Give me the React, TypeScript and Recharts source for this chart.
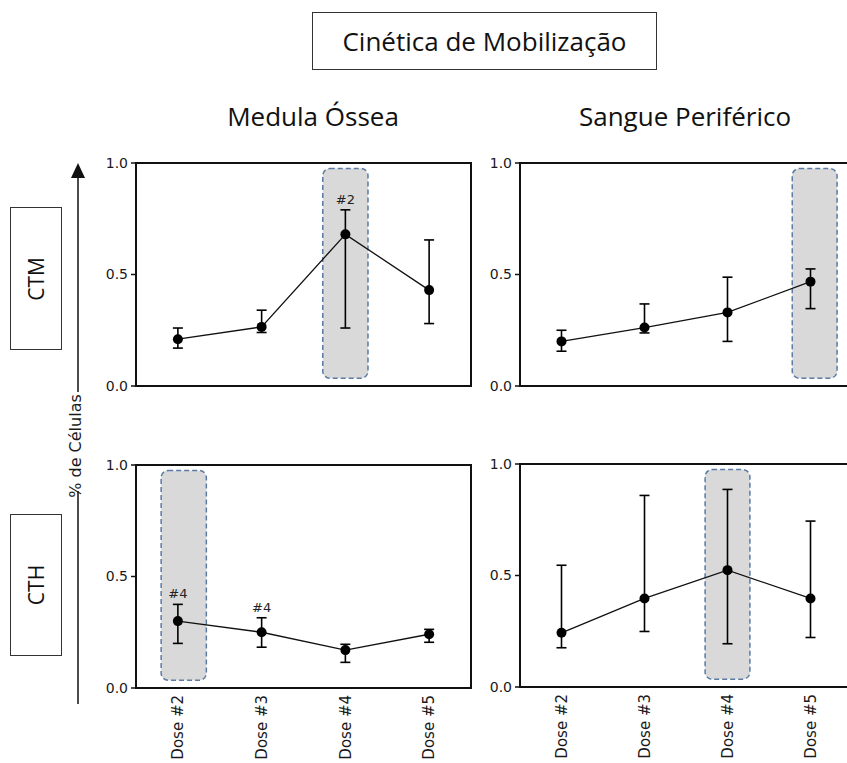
import {
    ComposedChart,
    Line,
    XAxis,
    YAxis,
    ErrorBar,
    ReferenceArea,
    LabelList,
} from "recharts";

const doses = ["Dose #2", "Dose #3", "Dose #4", "Dose #5"];
const yTicks = [0, 0.5, 1];

// CTM - Medula Óssea
const ctmMoMean = [0.21, 0.265, 0.68, 0.43];
const ctmMoLow = [0.17, 0.24, 0.26, 0.28];
const ctmMoHigh = [0.26, 0.34, 0.79, 0.655];
const ctmMoNotes = ["", "", "#2", ""];

// CTM - Sangue Periférico
const ctmSpMean = [0.2, 0.262, 0.33, 0.468];
const ctmSpLow = [0.156, 0.238, 0.2, 0.347];
const ctmSpHigh = [0.25, 0.368, 0.488, 0.525];
const ctmSpNotes = ["", "", "", ""];

// CTH - Medula Óssea
const cthMoMean = [0.3, 0.25, 0.17, 0.241];
const cthMoLow = [0.2, 0.183, 0.115, 0.205];
const cthMoHigh = [0.375, 0.315, 0.196, 0.263];
const cthMoNotes = ["#4", "#4", "", ""];

// CTH - Sangue Periférico
const cthSpMean = [0.243, 0.397, 0.524, 0.397];
const cthSpLow = [0.176, 0.249, 0.194, 0.222];
const cthSpHigh = [0.546, 0.859, 0.886, 0.744];
const cthSpNotes = ["", "", "", ""];

// dose highlighted (1-based) in each panel
const highlightDose = { ctmMo: 3, ctmSp: 4, cthMo: 1, cthSp: 3 };

function buildRows(mean: number[], low: number[], high: number[], notes: string[]) {
    return doses.map((d, i) => ({
        x: i + 1,
        dose: d,
        mean: mean[i],
        hi: high[i],
        err: [mean[i] - low[i], high[i] - mean[i]],
        note: notes[i],
    }));
}

const tickFont = "DejaVu Sans, Arial, sans-serif";
const ink = "#111";

const DoseTick = (p: any) => (
    <g transform={`translate(${p.x},${p.y})`}>
        <text
            transform="rotate(-90)"
            x={0}
            y={0}
            dy="0.35em"
            textAnchor="end"
            fontFamily={tickFont}
            fontSize={15}
            fill="#1a1a1a"
        >
            {doses[p.payload.value - 1]}
        </text>
    </g>
);

const HighlightBox = (p: any) => (
    <rect
        x={p.x}
        y={p.y}
        width={p.width}
        height={p.height}
        rx={7}
        ry={7}
        fill="#d9d9d9"
        stroke="#5b7ba6"
        strokeWidth={1.5}
        strokeDasharray="5 3"
    />
);

function Panel({
    rows,
    left,
    top,
    plotW,
    plotH,
    highlight,
    shift,
    showX,
}: {
    rows: any[];
    left: number;
    top: number;
    plotW: number;
    plotH: number;
    highlight: number;
    shift: number;
    showX: boolean;
}) {
    const axisW = 50;
    const mTop = 10;
    const xH = showX ? 80 : 0;
    const mBottom = showX ? 0 : 10;
    return (
        <div style={{ position: "absolute", left: left - axisW, top: top - mTop }}>
            <ComposedChart
                width={plotW + axisW + 10}
                height={plotH + mTop + xH + mBottom}
                margin={{ top: mTop, right: 10, left: 0, bottom: mBottom }}
                data={rows}
            >
                <ReferenceArea
                    x1={highlight + shift - 0.27}
                    x2={highlight + shift + 0.27}
                    y1={0.035}
                    y2={0.975}
                    shape={HighlightBox}
                />
                <XAxis
                    type="number"
                    dataKey="x"
                    domain={[0.5, 4.5]}
                    ticks={[1, 2, 3, 4]}
                    allowDataOverflow
                    height={xH}
                    axisLine={{ stroke: ink, strokeWidth: 2 }}
                    tickLine={false}
                    tickSize={0}
                    tickMargin={7}
                    tick={showX ? DoseTick : false}
                />
                <YAxis
                    type="number"
                    domain={[0, 1]}
                    ticks={yTicks}
                    width={axisW}
                    axisLine={{ stroke: ink, strokeWidth: 2 }}
                    tickLine={{ stroke: ink, strokeWidth: 1.5 }}
                    tickSize={5}
                    tickMargin={3}
                    tickFormatter={(v: number) => v.toFixed(1)}
                    tick={{ fontFamily: tickFont, fontSize: 14, fill: "#1a1a1a" }}
                />
                <Line
                    dataKey="mean"
                    stroke={ink}
                    strokeWidth={1.3}
                    isAnimationActive={false}
                    dot={{ r: 5, fill: "#000", stroke: "#000", strokeWidth: 0 }}
                    activeDot={false}
                >
                    <ErrorBar
                        dataKey="err"
                        direction="y"
                        width={5}
                        stroke="#000"
                        strokeWidth={1.6}
                        isAnimationActive={false}
                    />
                </Line>
                <Line
                    dataKey="hi"
                    stroke="none"
                    dot={false}
                    activeDot={false}
                    isAnimationActive={false}
                >
                    <LabelList
                        dataKey="note"
                        position="top"
                        offset={6}
                        style={{ fontFamily: tickFont, fontSize: 13, fill: "#222" }}
                    />
                </Line>
                <ReferenceArea
                    x1={0.5}
                    x2={4.5}
                    y1={0}
                    y2={1}
                    fill="none"
                    fillOpacity={0}
                    stroke={ink}
                    strokeWidth={2}
                />
            </ComposedChart>
        </div>
    );
}

const boxStyle: any = {
    position: "absolute",
    boxSizing: "border-box",
    border: "1.5px solid #333",
    display: "flex",
    alignItems: "center",
    justifyContent: "center",
    fontFamily: "Open Sans, sans-serif",
    color: "#111",
    background: "#fff",
};

const headStyle: any = {
    position: "absolute",
    width: 300,
    height: 26,
    lineHeight: "26px",
    textAlign: "center",
    fontFamily: "Open Sans, sans-serif",
    fontSize: 26,
    color: "#111",
};

export default function App() {
    return (
        <div
            style={{
                position: "absolute",
                left: 0,
                top: 0,
                width: 847,
                height: 763,
                overflow: "hidden",
                background: "#fff",
            }}
        >
            <div style={{ ...boxStyle, left: 312, top: 12, width: 345, height: 58, fontSize: 26 }}>
                Cinética de Mobilização
            </div>
            <div style={{ ...headStyle, left: 163, top: 103 }}>Medula Óssea</div>
            <div style={{ ...headStyle, left: 535, top: 103 }}>Sangue Periférico</div>

            <div style={{ ...boxStyle, left: 10, top: 207, width: 52, height: 143, fontSize: 21 }}>
                <span style={{ transform: "rotate(-90deg)", display: "inline-block" }}>CTM</span>
            </div>
            <div style={{ ...boxStyle, left: 10, top: 514, width: 52, height: 142, fontSize: 21 }}>
                <span style={{ transform: "rotate(-90deg)", display: "inline-block" }}>CTH</span>
            </div>

            <Panel
                rows={buildRows(ctmMoMean, ctmMoLow, ctmMoHigh, ctmMoNotes)}
                left={136}
                top={163}
                plotW={335}
                plotH={223}
                highlight={highlightDose.ctmMo}
                shift={0}
                showX={false}
            />
            <Panel
                rows={buildRows(ctmSpMean, ctmSpLow, ctmSpHigh, ctmSpNotes)}
                left={520}
                top={163}
                plotW={332}
                plotH={223}
                highlight={highlightDose.ctmSp}
                shift={0.05}
                showX={false}
            />
            <Panel
                rows={buildRows(cthMoMean, cthMoLow, cthMoHigh, cthMoNotes)}
                left={136}
                top={465}
                plotW={335}
                plotH={223}
                highlight={highlightDose.cthMo}
                shift={0.07}
                showX={true}
            />
            <Panel
                rows={buildRows(cthSpMean, cthSpLow, cthSpHigh, cthSpNotes)}
                left={520}
                top={464}
                plotW={332}
                plotH={223}
                highlight={highlightDose.cthSp}
                shift={0}
                showX={true}
            />

            <svg
                width={847}
                height={763}
                style={{ position: "absolute", left: 0, top: 0, pointerEvents: "none" }}
            >
                <line x1={78} y1={392} x2={78} y2={176} stroke={ink} strokeWidth={1.5} />
                <polygon points="78,163 71,178 85,178" fill={ink} />
                <line x1={78} y1={491} x2={78} y2={704} stroke={ink} strokeWidth={1.5} />
                <text
                    transform="translate(75,446) rotate(-90)"
                    textAnchor="middle"
                    dy="0.35em"
                    fontFamily={tickFont}
                    fontSize={16}
                    fill="#1a1a1a"
                >
                    % de Células
                </text>
            </svg>
        </div>
    );
}
